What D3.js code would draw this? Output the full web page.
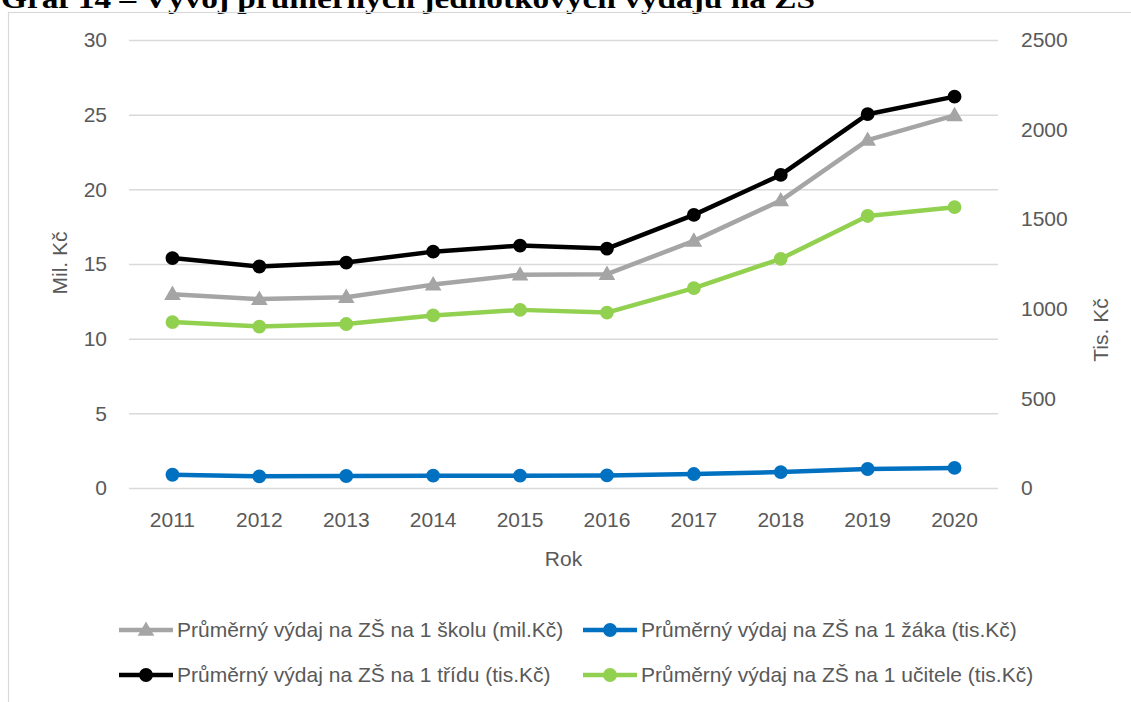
<!DOCTYPE html>
<html>
<head>
<meta charset="utf-8">
<script src="https://cdn.jsdelivr.net/npm/d3@7"></script>
<style>
  html, body { margin: 0; padding: 0; background: #fff; overflow: hidden; }
  svg { display: block; }
  text { font-family: "Liberation Sans", Arial, sans-serif; }
</style>
</head>
<body>
<div id="chart"></div>
<script>
// Data
const years = ["2011", "2012", "2013", "2014", "2015", "2016", "2017", "2018", "2019", "2020"];
const perSchool = [12.98, 12.65, 12.78, 13.62, 14.28, 14.32, 16.55, 19.25, 23.3, 24.95];   // mil. Kč, left axis
const perPupil = [74, 65, 67, 69, 69, 70, 78, 89, 106, 112];                                  // tis. Kč, right axis
const perClass = [1283, 1236, 1258, 1319, 1353, 1336, 1524, 1747, 2086, 2184];                // tis. Kč, right axis
const perTeacher = [926, 901, 915, 963, 994, 979, 1115, 1279, 1518, 1567];                    // tis. Kč, right axis
const leftTicks = [0, 5, 10, 15, 20, 25, 30];
const rightTicks = [0, 500, 1000, 1500, 2000, 2500];
const seriesNames = [
  "Průměrný výdaj na ZŠ na 1 školu (mil.Kč)",
  "Průměrný výdaj na ZŠ na 1 žáka (tis.Kč)",
  "Průměrný výdaj na ZŠ na 1 třídu (tis.Kč)",
  "Průměrný výdaj na ZŠ na 1 učitele (tis.Kč)"
];
const title = "Graf 14 – Vývoj průměrných jednotkových výdajů na ZŠ";

const W = 1131, H = 702;
const plot = {left: 129, right: 998, top: 40, bottom: 488};
const fontSize = "21px";
const textColor = "#595959";

const svg = d3.select("#chart").append("svg")
  .attr("width", W)
  .attr("height", H);

// Title (its top is cut off in the reference too)
svg.append("text")
  .attr("x", 1)
  .attr("y", 8)
  .attr("textLength", 814)
  .attr("lengthAdjust", "spacingAndGlyphs")
  .style("font-family", "'Liberation Serif', 'DejaVu Serif', serif")
  .style("font-weight", "bold")
  .style("font-size", "27px")
  .attr("fill", "#000")
  .text(title);

// Chart frame
svg.append("rect")
  .attr("x", 8.5)
  .attr("y", 12.5)
  .attr("width", W + 20)
  .attr("height", H)
  .attr("fill", "none")
  .attr("stroke", "#D9D9D9")
  .attr("stroke-width", 1.2);

const x = d3.scaleBand().domain(years).range([plot.left, plot.right]).padding(0);
const cx = d => x(d) + x.bandwidth() / 2;
const yL = d3.scaleLinear().domain([0, 30]).range([plot.bottom, plot.top]);
const yR = d3.scaleLinear().domain([0, 2500]).range([plot.bottom, plot.top]);

// Gridlines + left axis
const leftAxis = svg.append("g")
  .attr("transform", `translate(${plot.left},0)`)
  .call(d3.axisLeft(yL).tickValues(leftTicks).tickSize(-(plot.right - plot.left)).tickPadding(22));
leftAxis.select(".domain").remove();
leftAxis.selectAll(".tick line").attr("stroke", "#D9D9D9").attr("stroke-width", 1.5);
leftAxis.selectAll(".tick text")
  .attr("fill", textColor)
  .style("font-size", fontSize);

// Right axis
const rightAxis = svg.append("g")
  .attr("transform", `translate(${plot.right},0)`)
  .call(d3.axisRight(yR).tickValues(rightTicks).tickFormat(d3.format("d")).tickSize(0).tickPadding(23));
rightAxis.select(".domain").remove();
rightAxis.selectAll(".tick text")
  .attr("fill", textColor)
  .style("font-size", fontSize);

// X axis labels
const xAxis = svg.append("g")
  .attr("transform", `translate(0,${plot.bottom})`)
  .call(d3.axisBottom(x).tickSize(0).tickPadding(24));
xAxis.select(".domain").remove();
xAxis.selectAll(".tick text")
  .attr("fill", textColor)
  .style("font-size", fontSize);

// Axis titles
svg.append("text")
  .attr("transform", `translate(67,263) rotate(-90)`)
  .attr("text-anchor", "middle")
  .attr("fill", textColor)
  .style("font-size", fontSize)
  .text("Mil. Kč");

svg.append("text")
  .attr("transform", `translate(1108,330) rotate(-90)`)
  .attr("text-anchor", "middle")
  .attr("fill", textColor)
  .style("font-size", fontSize)
  .text("Tis. Kč");

svg.append("text")
  .attr("x", (plot.left + plot.right) / 2)
  .attr("y", 566)
  .attr("text-anchor", "middle")
  .attr("fill", textColor)
  .style("font-size", fontSize)
  .text("Rok");

// Series
const series = [
  {name: seriesNames[0], values: perSchool, y: yL, color: "#A5A5A5", marker: "triangle"},
  {name: seriesNames[1], values: perPupil, y: yR, color: "#0070C0", marker: "circle"},
  {name: seriesNames[2], values: perClass, y: yR, color: "#000000", marker: "circle"},
  {name: seriesNames[3], values: perTeacher, y: yR, color: "#92D050", marker: "circle"}
];

const triangle = d3.symbol().type(d3.symbolTriangle).size(120);
const circle = d3.symbol().type(d3.symbolCircle).size(150);

function drawMarker(g, s) {
  return g.append("path")
    .attr("d", s.marker === "triangle" ? triangle() : circle())
    .attr("fill", s.color);
}

series.forEach(s => {
  const line = d3.line()
    .x((d, i) => cx(years[i]))
    .y(d => s.y(d));

  svg.append("path")
    .datum(s.values)
    .attr("fill", "none")
    .attr("stroke", s.color)
    .attr("stroke-width", 4.5)
    .attr("stroke-linejoin", "round")
    .attr("d", line);

  s.values.forEach((v, i) => {
    const g = svg.append("g")
      .attr("transform", `translate(${cx(years[i])},${s.y(v) + (s.marker === "triangle" ? 1 : 0)})`);
    drawMarker(g, s);
  });
});

// Legend
const legendPos = [
  {x: 119, y: 630}, {x: 583, y: 630},
  {x: 119, y: 675}, {x: 583, y: 675}
];
series.forEach((s, i) => {
  const p = legendPos[i];
  const g = svg.append("g").attr("transform", `translate(${p.x},${p.y})`);
  g.append("line")
    .attr("x1", 0).attr("x2", 54)
    .attr("y1", 0).attr("y2", 0)
    .attr("stroke", s.color)
    .attr("stroke-width", 4.5);
  const m = g.append("g").attr("transform", `translate(27,${s.marker === "triangle" ? 1 : 0})`);
  drawMarker(m, s);
  g.append("text")
    .attr("x", 58)
    .attr("y", 0)
    .attr("dy", "0.35em")
    .attr("fill", textColor)
    .style("font-size", fontSize)
    .text(s.name);
});
</script>
</body>
</html>
